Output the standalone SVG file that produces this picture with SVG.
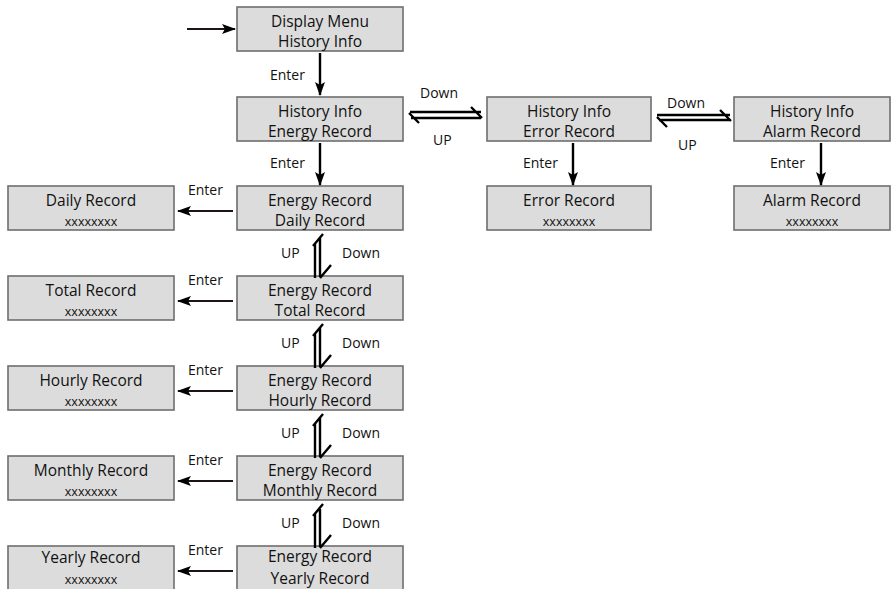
<svg xmlns="http://www.w3.org/2000/svg" width="893" height="589" viewBox="0 0 893 589">
<style>
.box{fill:#dcdcdc;stroke:#6e6e6e;stroke-width:1.6}
.t{font-family:"Open Sans","Noto Sans","DejaVu Sans",sans-serif;font-size:15.5px;fill:#111;text-anchor:middle}
.x{font-family:"Open Sans","Noto Sans","DejaVu Sans",sans-serif;font-size:12.5px;fill:#111;text-anchor:middle}
.l{font-family:"Open Sans","Noto Sans","DejaVu Sans",sans-serif;font-size:14px;fill:#111}
.ln{fill:none;stroke:#000;stroke-width:2.4}
.en{fill:none;stroke:#1e1414;stroke-width:2.2}
</style>
<defs>
<marker id="ah" markerUnits="userSpaceOnUse" markerWidth="14" markerHeight="12" refX="13" refY="5" orient="auto" viewBox="0 0 14 10">
<path d="M0,0 L14,5 L0,10 L3,5 Z" fill="#000"/>
</marker>
<g id="vpair">
<path class="ln" d="M315,244 V278 M313,246 L323,234 M320,237 V277 M320,278 L331,265"/>
</g>
</defs>

<g id="n-display"><rect class="box" x="237" y="7" width="166" height="44"/><text class="t" x="320" y="27">Display Menu</text><text class="t" x="320" y="47">History Info</text></g>
<g id="n-energy"><rect class="box" x="237" y="97" width="166" height="44"/><text class="t" x="320" y="117">History Info</text><text class="t" x="320" y="137">Energy Record</text></g>
<g id="n-error"><rect class="box" x="487" y="97" width="164" height="44"/><text class="t" x="569" y="117">History Info</text><text class="t" x="569" y="137">Error Record</text></g>
<g id="n-alarm"><rect class="box" x="734" y="97" width="156" height="44"/><text class="t" x="812" y="117">History Info</text><text class="t" x="812" y="137">Alarm Record</text></g>
<g id="n-errrec"><rect class="box" x="487" y="186" width="164" height="44"/><text class="t" x="569" y="206">Error Record</text><text class="x" x="569" y="226">xxxxxxxx</text></g>
<g id="n-alrec"><rect class="box" x="734" y="186" width="156" height="44"/><text class="t" x="812" y="206">Alarm Record</text><text class="x" x="812" y="226">xxxxxxxx</text></g>

<g id="n-e-daily"><rect class="box" x="237" y="186" width="166" height="44"/><text class="t" x="320" y="206">Energy Record</text><text class="t" x="320" y="226">Daily Record</text></g>
<g id="n-e-total"><rect class="box" x="237" y="276" width="166" height="44"/><text class="t" x="320" y="296">Energy Record</text><text class="t" x="320" y="316">Total Record</text></g>
<g id="n-e-hourly"><rect class="box" x="237" y="366" width="166" height="44"/><text class="t" x="320" y="386">Energy Record</text><text class="t" x="320" y="406">Hourly Record</text></g>
<g id="n-e-monthly"><rect class="box" x="237" y="456" width="166" height="44"/><text class="t" x="320" y="476">Energy Record</text><text class="t" x="320" y="496">Monthly Record</text></g>
<g id="n-e-yearly"><rect class="box" x="237" y="546" width="166" height="50"/><text class="t" x="320" y="562">Energy Record</text><text class="t" x="320" y="584">Yearly Record</text></g>

<g id="n-daily"><rect class="box" x="8" y="186" width="166" height="44"/><text class="t" x="91" y="206">Daily Record</text><text class="x" x="91" y="226">xxxxxxxx</text></g>
<g id="n-total"><rect class="box" x="8" y="276" width="166" height="44"/><text class="t" x="91" y="296">Total Record</text><text class="x" x="91" y="316">xxxxxxxx</text></g>
<g id="n-hourly"><rect class="box" x="8" y="366" width="166" height="44"/><text class="t" x="91" y="386">Hourly Record</text><text class="x" x="91" y="406">xxxxxxxx</text></g>
<g id="n-monthly"><rect class="box" x="8" y="456" width="166" height="44"/><text class="t" x="91" y="476">Monthly Record</text><text class="x" x="91" y="496">xxxxxxxx</text></g>
<g id="n-yearly"><rect class="box" x="8" y="546" width="166" height="50"/><text class="t" x="91" y="563">Yearly Record</text><text class="x" x="91" y="584">xxxxxxxx</text></g>

<g id="connectors">
<path class="en" d="M187,29 H235" marker-end="url(#ah)"/>
<path class="ln" d="M320,53 V95" marker-end="url(#ah)"/>
<path class="ln" d="M320,143 V185" marker-end="url(#ah)"/>
<path class="ln" d="M573,143 V185" marker-end="url(#ah)"/>
<path class="ln" d="M821,143 V185" marker-end="url(#ah)"/>
<path class="ln" d="M410,112 H481 M471,107 L482,118 M411,118 H481 M409,113 L419,123"/>
<path class="ln" d="M657,115 H730 M720,110 L731,121 M659,120 H730 M657,117 L667,127"/>
<use href="#vpair"/>
<use href="#vpair" y="90"/>
<use href="#vpair" y="180"/>
<use href="#vpair" y="270"/>
<path class="en" d="M233,211 H178" marker-end="url(#ah)"/>
<path class="en" d="M233,301 H178" marker-end="url(#ah)"/>
<path class="en" d="M233,391 H178" marker-end="url(#ah)"/>
<path class="en" d="M233,481 H178" marker-end="url(#ah)"/>
<path class="en" d="M233,571 H178" marker-end="url(#ah)"/>
</g>

<g id="labels">
<text class="l" x="270" y="80">Enter</text>
<text class="l" x="270" y="168">Enter</text>
<text class="l" x="523" y="168">Enter</text>
<text class="l" x="770" y="168">Enter</text>
<text class="l" x="420" y="98">Down</text>
<text class="l" x="433" y="145">UP</text>
<text class="l" x="667" y="108">Down</text>
<text class="l" x="678" y="150">UP</text>
<text class="l" x="188" y="195">Enter</text>
<text class="l" x="188" y="285">Enter</text>
<text class="l" x="188" y="375">Enter</text>
<text class="l" x="188" y="465">Enter</text>
<text class="l" x="188" y="555">Enter</text>
<text class="l" x="281" y="258">UP</text>
<text class="l" x="342" y="258">Down</text>
<text class="l" x="281" y="348">UP</text>
<text class="l" x="342" y="348">Down</text>
<text class="l" x="281" y="438">UP</text>
<text class="l" x="342" y="438">Down</text>
<text class="l" x="281" y="528">UP</text>
<text class="l" x="342" y="528">Down</text>
</g>
</svg>
